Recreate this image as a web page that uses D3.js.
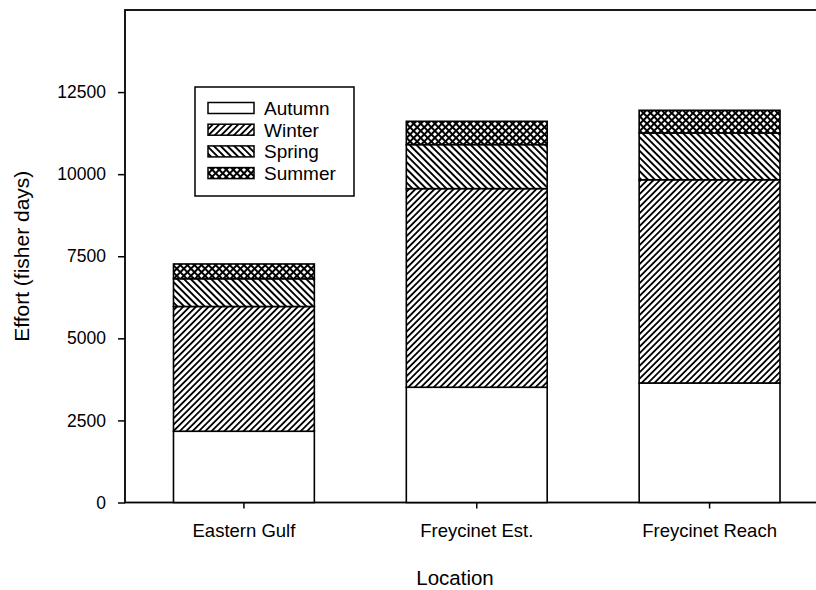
<!DOCTYPE html>
<html>
<head>
<meta charset="utf-8">
<script src="https://cdn.jsdelivr.net/npm/d3@7"></script>
<style>
  html, body { margin: 0; padding: 0; background: #fff; }
  svg { display: block; font-family: "Liberation Sans", Arial, sans-serif; }
</style>
</head>
<body>
<svg id="chart" width="816" height="590"></svg>
<script>
// Fishing effort by location, stacked by season
const locations = ["Eastern Gulf", "Freycinet Est.", "Freycinet Reach"];
const seasons = ["Autumn", "Winter", "Spring", "Summer"];
const autumn = [2170, 3510, 3640];
const winter = [3800, 6050, 6190];
const spring = [845, 1340, 1425];
const summer = [450, 710, 690];
const yTicks = [0, 2500, 5000, 7500, 10000, 12500];

const seriesValues = { Autumn: autumn, Winter: winter, Spring: spring, Summer: summer };
const rows = locations.map((loc, i) => {
  const r = { location: loc };
  seasons.forEach(s => { r[s] = seriesValues[s][i]; });
  return r;
});

const svg = d3.select("#chart");
const plotLeft = 125, plotTop = 10, plotBottom = 502.5, plotRight = 830;
const fontFamily = "'Liberation Sans', Arial, sans-serif";

const x = d3.scaleBand()
  .domain(locations)
  .range([127.5, 826])
  .paddingInner(0.395)
  .paddingOuter(0.1975);

const y = d3.scaleLinear().domain([0, 15000]).range([plotBottom, plotTop]);

// Hatch fills for each season
const defs = svg.append("defs");
function hatch(id, angle, size, width, cross) {
  const p = defs.append("pattern")
    .attr("id", id)
    .attr("patternUnits", "userSpaceOnUse")
    .attr("width", size).attr("height", size)
    .attr("patternTransform", `rotate(${angle})`);
  p.append("rect").attr("width", size).attr("height", size).attr("fill", "#fff");
  const g = p.append("g").attr("stroke", "#000").attr("stroke-width", width)
    .attr("shape-rendering", "crispEdges");
  g.append("line").attr("x1", 0).attr("y1", 0).attr("x2", 0).attr("y2", size);
  g.append("line").attr("x1", size).attr("y1", 0).attr("x2", size).attr("y2", size);
  if (cross) {
    g.append("line").attr("x1", 0).attr("y1", 0).attr("x2", size).attr("y2", 0);
    g.append("line").attr("x1", 0).attr("y1", size).attr("x2", size).attr("y2", size);
  }
}
hatch("hatch-winter", 45, 4.5, 2.2, false);
hatch("hatch-spring", -45, 4.8, 2.2, false);
hatch("hatch-summer", 45, 5.0, 2.9, true);

const fills = {
  Autumn: "#fff",
  Winter: "url(#hatch-winter)",
  Spring: "url(#hatch-spring)",
  Summer: "url(#hatch-summer)"
};

const stack = d3.stack().keys(seasons)(rows);

// Plot frame
svg.append("rect")
  .attr("x", plotLeft).attr("y", plotTop)
  .attr("width", plotRight - plotLeft).attr("height", plotBottom - plotTop)
  .attr("fill", "none").attr("stroke", "#000").attr("stroke-width", 1.8);

// Stacked bars
svg.append("g").selectAll("g")
  .data(stack)
  .join("g")
  .attr("fill", d => fills[d.key])
  .selectAll("rect")
  .data(d => d)
  .join("rect")
  .attr("x", d => x(d.data.location))
  .attr("width", x.bandwidth())
  .attr("y", d => y(d[1]))
  .attr("height", d => y(d[0]) - y(d[1]))
  .attr("stroke", "#000")
  .attr("stroke-width", 1.6);

// Axes
const yAxis = svg.append("g")
  .attr("transform", `translate(${plotLeft},0)`)
  .call(d3.axisLeft(y).tickValues(yTicks).tickSize(7).tickPadding(12).tickFormat(d3.format("d")));
yAxis.select(".domain").remove();
yAxis.selectAll("line").attr("stroke", "#000").attr("stroke-width", 1.5);
yAxis.selectAll("text").attr("font-size", 17.5).attr("fill", "#000")
  .attr("font-family", fontFamily);

const xAxis = svg.append("g")
  .attr("transform", `translate(0,${plotBottom})`)
  .call(d3.axisBottom(x).tickSize(6).tickPadding(15));
xAxis.select(".domain").remove();
xAxis.selectAll("line").attr("stroke", "#000").attr("stroke-width", 1.5);
xAxis.selectAll("text").attr("font-size", 18.5).attr("fill", "#000")
  .attr("font-family", fontFamily);

// Axis titles
svg.append("text")
  .attr("transform", `translate(29,${(plotTop + plotBottom) / 2}) rotate(-90)`)
  .attr("text-anchor", "middle")
  .attr("font-size", 21)
  .text("Effort (fisher days)");

svg.append("text")
  .attr("x", 455).attr("y", 585)
  .attr("text-anchor", "middle")
  .attr("font-size", 20.5)
  .text("Location");

// Legend
const legend = svg.append("g");
legend.append("rect")
  .attr("x", 195).attr("y", 87)
  .attr("width", 159).attr("height", 109)
  .attr("fill", "#fff").attr("stroke", "#000").attr("stroke-width", 1.5);
seasons.forEach((s, i) => {
  const cy = 108 + i * 21.7;
  legend.append("rect")
    .attr("x", 208).attr("y", cy - 5.5)
    .attr("width", 46).attr("height", 11)
    .attr("fill", fills[s]).attr("stroke", "#000").attr("stroke-width", 1.5);
  legend.append("text")
    .attr("x", 264).attr("y", cy)
    .attr("dy", "0.36em")
    .attr("font-size", 19)
    .text(s);
});
</script>
</body>
</html>
